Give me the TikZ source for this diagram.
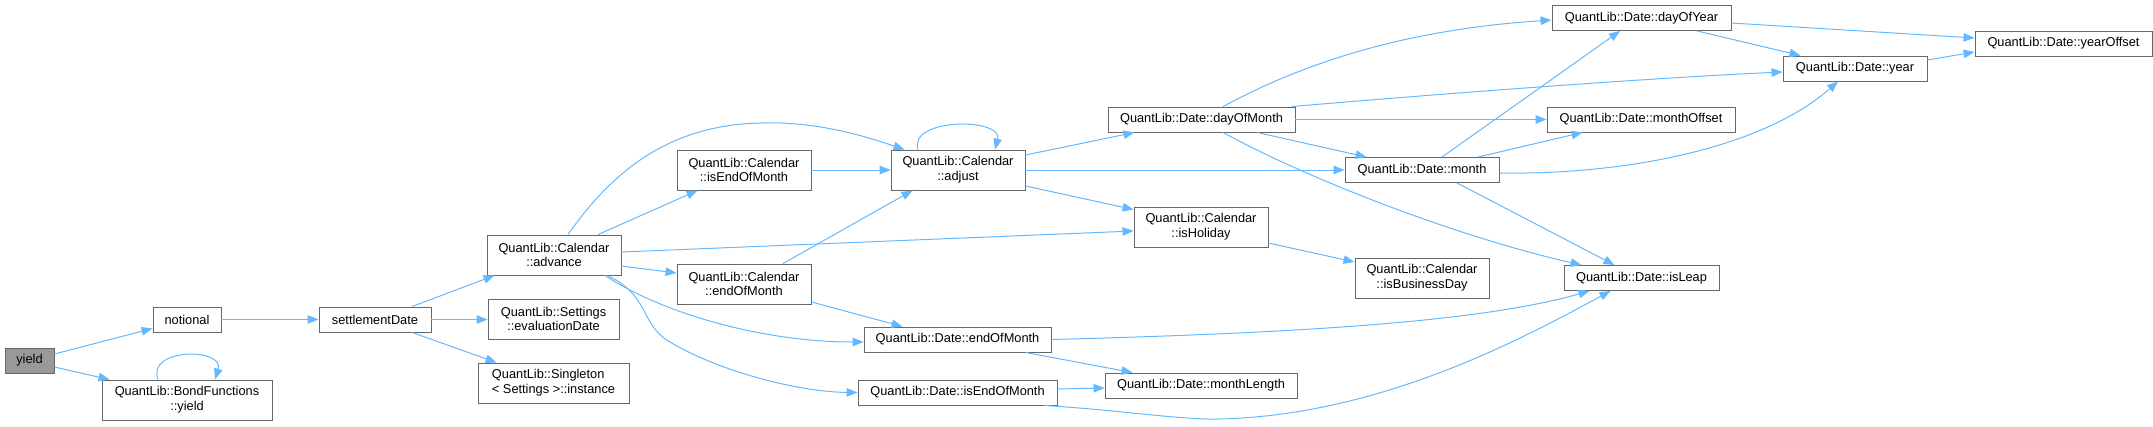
\documentclass[tikz,border=0pt]{standalone}
\usepackage{fontspec}
\setmainfont{Liberation Sans}
\usetikzlibrary{arrows.meta}
\definecolor{edgeblue}{HTML}{63B8FF}
\definecolor{boxgray}{HTML}{666666}
\definecolor{fillgray}{HTML}{999999}
\tikzset{
  fn/.style={draw=boxgray, line width=0.9pt, fill=white, inner sep=0pt, align=center,
    font=\fontsize{12.8}{14.7}\selectfont},
  one/.style={fn, minimum height=25pt},
  two/.style={fn, minimum height=40pt},
  cur/.style={fill=fillgray},
  link/.style={draw=edgeblue, line width=1pt, -{Triangle[length=11pt,width=8.5pt]}, fill=none}
}
\begin{document}
\begin{tikzpicture}[x=1pt,y={(0pt,-1pt)}]
\useasboundingbox (0,0) rectangle (2153,426);
% nodes
\node[one,cur,minimum width=49pt] (yield) at (29.5,360.5) {yield};
\node[one,minimum width=68pt] (notional) at (187,319.5) {notional};
\node[one,minimum width=112pt] (settle) at (375,319.5) {settlementDate};
\node[two,minimum width=170pt] (bondyield) at (187,400) {QuantLib::BondFunctions\\::yield};
\node[two,minimum width=134pt] (advance) at (554,255) {QuantLib::Calendar\\::advance};
\node[two,minimum width=131pt] (evaldate) at (553.5,319) {QuantLib::Settings\\::evaluationDate};
\node[two,minimum width=151pt,align=left] (instance) at (553.5,383) {QuantLib::Singleton\\< Settings >::instance};
\node[two,minimum width=134pt] (calEOM) at (744,170) {QuantLib::Calendar\\::isEndOfMonth};
\node[two,minimum width=134pt] (calEndOfMonth) at (744,284) {QuantLib::Calendar\\::endOfMonth};
\node[two,minimum width=134pt] (adjust) at (958,170) {QuantLib::Calendar\\::adjust};
\node[one,minimum width=187pt] (dEndOfMonth) at (957.5,339.5) {QuantLib::Date::endOfMonth};
\node[one,minimum width=199pt] (dIsEOM) at (957.5,392.5) {QuantLib::Date::isEndOfMonth};
\node[one,minimum width=187pt] (dayOfMonth) at (1201.5,119.5) {QuantLib::Date::dayOfMonth};
\node[two,minimum width=134pt] (isHoliday) at (1201,227) {QuantLib::Calendar\\::isHoliday};
\node[one,minimum width=192pt] (monthLength) at (1201,385.5) {QuantLib::Date::monthLength};
\node[one,minimum width=179pt] (dayOfYear) at (1641.5,18) {QuantLib::Date::dayOfYear};
\node[one,minimum width=177pt] (yearOffset) at (2063.5,43.5) {QuantLib::Date::yearOffset};
\node[one,minimum width=144pt] (year) at (1855,68.5) {QuantLib::Date::year};
\node[one,minimum width=188pt] (monthOffset) at (1641,119.5) {QuantLib::Date::monthOffset};
\node[one,minimum width=154pt] (month) at (1422,170) {QuantLib::Date::month};
\node[two,minimum width=134pt] (isBusinessDay) at (1422,278) {QuantLib::Calendar\\::isBusinessDay};
\node[one,minimum width=155pt] (isLeap) at (1641.5,278) {QuantLib::Date::isLeap};
% edges
\draw[link] ([yshift=6.5]yield.east) -- ([yshift=4]notional.south west);
\draw[link] ([yshift=-6.5]yield.east) -- ([xshift=8]bondyield.north west);
\draw[link] ([xshift=-29]bondyield.north) .. controls +(-12,-32) and +(10,-32) .. ([xshift=28]bondyield.north);
\draw[link] (notional.east) -- (settle.west);
\draw[link] ([xshift=37]settle.north) -- ([xshift=8]advance.south west);
\draw[link] (settle.east) -- (settle.east -| evaldate.west);
\draw[link] ([xshift=37]settle.south) -- ([xshift=19]instance.north west);
\draw[link] ([xshift=14]advance.north) .. controls (620,160) and (680,125) .. (760,123) .. controls (820,121) and (870,138) .. ([xshift=14]adjust.north west);
\draw[link] ([xshift=44]advance.north) -- ([xshift=21]calEOM.south west);
\draw[link] ([yshift=3]advance.east) -- ([yshift=-4]isHoliday.west);
\draw[link] ([yshift=-11]advance.east) -- ([yshift=11]calEndOfMonth.west);
\draw[link] ([xshift=51]advance.south) .. controls (660,312) and (760,342) .. ([yshift=-2.5]dEndOfMonth.west);
\draw[link] ([xshift=53]advance.south) .. controls (650,295) and (640,325) .. (670,342) .. controls (720,372) and (800,392) .. (dIsEOM.west);
\draw[link] (calEOM.east) -- (adjust.west);
\draw[link] ([xshift=39]calEndOfMonth.north) -- ([xshift=22]adjust.south west);
\draw[link] ([yshift=-18]calEndOfMonth.east) -- ([xshift=39]dEndOfMonth.north west);
\draw[link] ([xshift=-40]adjust.north) .. controls +(-10,-32) and +(8,-32) .. ([xshift=37]adjust.north);
\draw[link] ([yshift=15]adjust.east) -- ([xshift=27]dayOfMonth.south west);
\draw[link] (adjust.east) -- (month.west);
\draw[link] ([yshift=-16]adjust.east) -- ([yshift=-3]isHoliday.north west);
\draw[link] ([yshift=-16]isHoliday.east) -- ([yshift=16]isBusinessDay.west);
\draw[link] (dEndOfMonth.east) .. controls (1300,333) and (1480,322) .. ([xshift=26]isLeap.south west);
\draw[link] ([xshift=68]dEndOfMonth.south) -- ([xshift=28]monthLength.north west);
\draw[link] ([yshift=3.5]dIsEOM.east) -- ([yshift=-2.5]monthLength.west);
\draw[link] ([xshift=86]dIsEOM.south) .. controls (1120,410) and (1180,420) .. (1220,419) .. controls (1380,415) and (1520,340) .. ([xshift=47]isLeap.south west);
\draw[link] ([xshift=21.5]dayOfMonth.north) .. controls (1300,65) and (1400,30) .. ([yshift=-2]dayOfYear.west);
\draw[link] ([xshift=90.5]dayOfMonth.north) .. controls (1450,93) and (1650,78) .. ([yshift=-3.5]year.west);
\draw[link] (dayOfMonth.east) -- (monthOffset.west);
\draw[link] ([xshift=55.5]dayOfMonth.south) -- ([xshift=22]month.north west);
\draw[link] ([xshift=21.5]dayOfMonth.south) .. controls (1300,175) and (1450,235) .. ([xshift=18]isLeap.north west);
\draw[link] ([xshift=20]month.north) -- ([xshift=-21.5]dayOfYear.south);
\draw[link] ([xshift=56]month.north) -- ([xshift=36]monthOffset.south west);
\draw[link] ([yshift=-3]month.east) .. controls (1620,175) and (1760,150) .. ([xshift=-17]year.south);
\draw[link] ([xshift=35]month.south) -- ([xshift=51]isLeap.north west);
\draw[link] ([yshift=-5]dayOfYear.east) -- ([yshift=5.5]yearOffset.west);
\draw[link] ([xshift=55.5]dayOfYear.south) -- ([xshift=18]year.north west);
\draw[link] ([yshift=8.5]year.east) -- ([yshift=-8.5]yearOffset.west);
\end{tikzpicture}
\end{document}
